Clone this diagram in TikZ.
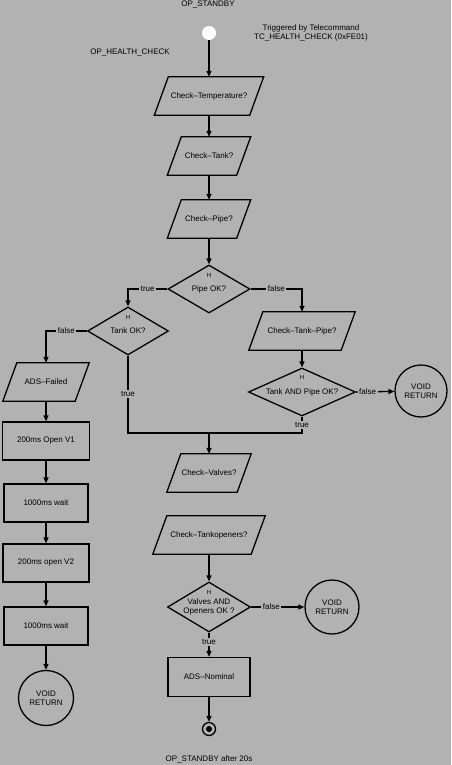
\documentclass[tikz,border=0pt]{standalone}
\usepackage{fontspec}
\setmainfont{Liberation Sans}
\usetikzlibrary{shapes.geometric,arrows.meta}
\definecolor{bg}{gray}{0.7}
\begin{document}
\begin{tikzpicture}[x=1pt,y=-1pt,
  every node/.style={font=\fontsize{8}{9.5}\selectfont, inner sep=1pt},
  ln/.style={line width=1.3pt},
  arr/.style={ln,-{Triangle[width=5pt,length=6pt]}},
  para/.style={rectangle, minimum height=38pt, inner sep=0pt},
  dec/.style={draw, ln, diamond, minimum height=48pt, inner sep=0pt, align=center},
  proc/.style={draw, ln, rectangle, minimum height=38pt},
  term/.style={draw, ln, circle, align=center, inner sep=0pt},
  lbl/.style={fill=bg, inner sep=1.5pt},
  hmark/.style={font=\fontsize{6}{6}\selectfont, inner sep=0pt}
]
\fill[bg] (0,0) rectangle (451,765);
\useasboundingbox (0,0) rectangle (451,765);

% texts
\node (opst) at (208,5) {OP\_STANDBY};
\node[align=center] (trig) at (311,33) {Triggered by Telecommand\\TC\_HEALTH\_CHECK (0xFE01)};
\node (ophc) at (130,53) {OP\_HEALTH\_CHECK};
\node (opend) at (209,759) {OP\_STANDBY after 20s};

% start / end
\node[circle, fill=white, minimum size=14pt, inner sep=0pt] (start) at (209,33) {};
\node[draw, ln, circle, minimum size=13pt, inner sep=0pt] (end) at (209,729) {};
\node[circle, fill=black, minimum size=6pt, inner sep=0pt] (enddot) at (end.center) {};

% main column
\node[para, minimum width=95pt] (ct) at (209,96) {Check--Temperature?};
\node[para, minimum width=69pt] (ctank) at (209,156) {Check--Tank?};
\node[para, minimum width=69pt] (cpipe) at (209,219) {Check--Pipe?};
\node[dec, minimum width=82pt, aspect=1.7] (pipeok) at (209,289) {Pipe OK?};
\node[hmark] (h1) at (209,275) {H};

\node[dec, minimum width=81pt, aspect=1.7] (tankok) at (128,331) {Tank OK?};
\node[hmark] (h2) at (128,317) {H};

\node[para, minimum width=92pt] (ctp) at (302,331) {Check--Tank--Pipe?};
\node[dec, minimum width=107pt, aspect=2.23] (tap) at (302,392) {Tank AND Pipe OK?};
\node[hmark] (h3) at (302,377) {H};
\node[term, minimum size=52pt] (void1) at (421,391) {VOID\\RETURN};

% left column
\node[para, minimum width=72pt] (adsf) at (46,382) {ADS--Failed};
\node[proc, minimum width=87pt] (v1) at (46,441) {200ms Open V1};
\node[proc, minimum width=84pt] (w1) at (46,503) {1000ms wait};
\node[proc, minimum width=86pt] (v2) at (46,563) {200ms open V2};
\node[proc, minimum width=84pt] (w2) at (46,626) {1000ms wait};
\node[term, minimum size=55pt] (void2) at (46,698) {VOID\\RETURN};

% lower column
\node[para, minimum width=70pt] (cv) at (209,473) {Check--Valves?};
\node[para, minimum width=98pt] (cto) at (209,535) {Check--Tankopeners?};
\node[dec, minimum width=83pt, minimum height=50pt, aspect=1.66] (vao) at (209,607) {Valves AND\\Openers OK ?};
\node[hmark] (h4) at (209,592) {H};
\node[term, minimum size=54pt] (void3) at (332,607) {VOID\\RETURN};
\node[proc, minimum width=82pt, minimum height=39pt] (adsn) at (209,677) {ADS--Nominal};

% parallelogram outlines
\foreach \n in {ct,ctank,cpipe,ctp,adsf,cv,cto}
  \draw[ln] ([xshift=7pt]\n.north west) -- ([xshift=7pt]\n.north east)
    -- ([xshift=-7pt]\n.south east) -- ([xshift=-7pt]\n.south west) -- cycle;

\coordinate (m) at (209,433);

% connectors
\draw[arr] (start) -- (ct);
\draw[arr] (ct) -- (ctank);
\draw[arr] (ctank) -- (cpipe);
\draw[arr] (cpipe) -- (pipeok);
\draw[arr] (pipeok.west) -- node[lbl]{true} (pipeok.west -| tankok) -- (tankok.north);
\draw[arr] (pipeok.east) -- node[lbl]{false} (pipeok.east -| ctp) -- (ctp.north);
\draw[arr] (tankok.west) -- node[lbl]{false} (tankok.west -| adsf) -- (adsf.north);
\draw[ln] (tankok.south) -- node[lbl]{true} (tankok.south |- m) -- (m);
\draw[ln] (tap.south) -- node[lbl]{true} (tap.south |- m) -- (m);
\draw[arr] (m) -- (cv.north);
\draw[arr] (ctp) -- (tap);
\draw[arr] (tap.east) -- node[lbl, pos=0.3]{false} (void1);
\draw[arr] (adsf) -- (v1);
\draw[arr] (v1) -- (w1);
\draw[arr] (w1) -- (v2);
\draw[arr] (v2) -- (w2);
\draw[arr] (w2) -- (void2);
\draw[arr] (cto) -- (vao);
\draw[arr] (vao.east) -- node[lbl, pos=0.38]{false} (void3);
\draw[arr] (vao.south) -- node[lbl, pos=0.4]{true} (adsn.north);
\draw[arr] (adsn) -- (end);
\end{tikzpicture}
\end{document}
